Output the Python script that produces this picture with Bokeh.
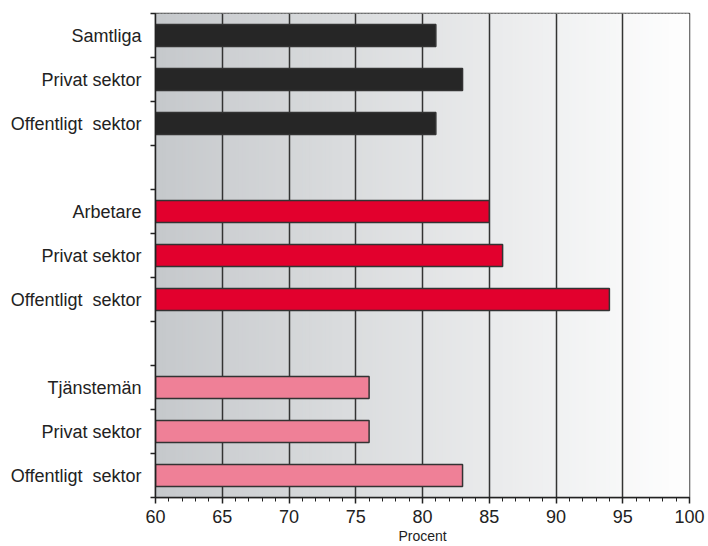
import numpy as np
from bokeh.plotting import figure
from bokeh.models import Range1d, FixedTicker, ColumnDataSource
from bokeh.embed import file_html
from bokeh.resources import INLINE

# ---- data ----
labels = ["Samtliga", "Privat sektor", "Offentligt\u00a0 sektor", "",
          "Arbetare", "Privat sektor", "Offentligt\u00a0 sektor", "",
          "Tjänstemän", "Privat sektor", "Offentligt\u00a0 sektor"]
values = [81, 83, 81, None, 85, 86, 94, None, 76, 76, 83]
group = ["all", "all", "all", None, "arb", "arb", "arb", None, "tj", "tj", "tj"]
x_ticks = [60, 65, 70, 75, 80, 85, 90, 95, 100]
colors = {"all": "#262626", "arb": "#e2002d", "tj": "#ef8097"}

n = len(labels)
FONT = "Liberation Sans"

p = figure(width=708, height=546, output_backend="svg", toolbar_location=None,
           x_range=Range1d(60, 100), y_range=Range1d(n, 0),
           min_border_left=155, min_border_right=19, min_border_top=13, min_border_bottom=48)
p.background_fill_color = "white"
p.border_fill_color = "white"
p.outline_line_color = "#444444"
p.outline_line_width = 1.5

# gradient background (styling)
edges = np.linspace(60, 100, 161)
c0 = np.array([0xc6, 0xc9, 0xcc])
c1 = np.array([0xff, 0xff, 0xff])
cols = []
for i in range(len(edges) - 1):
    t = (i + 0.5) / (len(edges) - 1)
    c = (c0 + (c1 - c0) * t).astype(int)
    cols.append("#%02x%02x%02x" % tuple(c))
rights = np.minimum(edges[1:] + 0.15, 100)
bg = p.quad(left=edges[:-1], right=rights, bottom=n, top=0, fill_color=cols, line_color=None)
bg.level = "image"

# grid lines
p.xgrid.ticker = FixedTicker(ticks=x_ticks)
p.xgrid.grid_line_color = "#333333"
p.xgrid.grid_line_width = 1.5
p.xgrid.level = "underlay"
p.ygrid.grid_line_color = None

# bars
ys, vs, fc = [], [], []
for i, (v, g) in enumerate(zip(values, group)):
    if v is None:
        continue
    ys.append(i + 0.5)
    vs.append(v)
    fc.append(colors[g])
src = ColumnDataSource(dict(y=ys, right=vs, color=fc))
p.hbar(y="y", left=60, right="right", height=0.5, fill_color="color",
       line_color="#333333", line_width=1.5, source=src)

# x axis
xa = p.xaxis[0]
xa.ticker = FixedTicker(ticks=x_ticks, minor_ticks=list(range(60, 101)))
xa.axis_line_color = "#222222"
xa.axis_line_width = 1.5
xa.major_tick_line_color = "#222222"
xa.major_tick_line_width = 1.5
xa.major_tick_out = 6
xa.major_tick_in = 0
xa.minor_tick_line_color = "#222222"
xa.minor_tick_out = 4
xa.minor_tick_in = 0
xa.major_label_text_font = FONT
xa.major_label_text_font_size = "18px"
xa.major_label_text_color = "#222222"
xa.major_label_standoff = 6
xa.axis_label = "Procent"
xa.axis_label_text_font = FONT
xa.axis_label_text_font_size = "14px"
xa.axis_label_text_font_style = "normal"
xa.axis_label_text_color = "#222222"
xa.axis_label_standoff = 2

# y axis
ya = p.yaxis[0]
centers = [i + 0.5 for i in range(n) if labels[i]]
ya.ticker = FixedTicker(ticks=centers, minor_ticks=list(range(0, n + 1)))
ya.major_label_overrides = {i + 0.5: labels[i] for i in range(n) if labels[i]}
ya.major_tick_out = 0
ya.major_tick_in = 0
ya.minor_tick_line_color = "#222222"
ya.minor_tick_line_width = 1.5
ya.minor_tick_out = 5
ya.minor_tick_in = 0
ya.axis_line_color = "#222222"
ya.axis_line_width = 1.5
ya.major_label_text_font = FONT
ya.major_label_text_font_size = "18px"
ya.major_label_text_color = "#222222"
ya.major_label_standoff = 9

open("out.html", "w").write(file_html(p, INLINE))
